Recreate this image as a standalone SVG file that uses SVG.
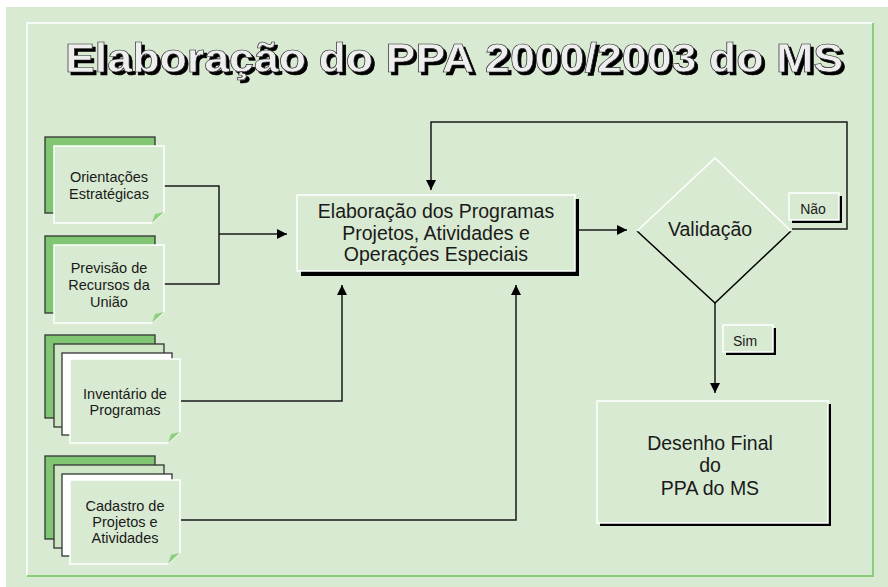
<svg xmlns="http://www.w3.org/2000/svg" width="888" height="587" viewBox="0 0 888 587">
<style>
  .t { font-family: "Liberation Sans", Arial, sans-serif; fill: #1a1a1a; text-anchor: middle; }
  .doc { font-size: 14.5px; }
  .big { font-size: 19.5px; }
  .lbl { font-size: 14px; }
  .back1 { fill: #80c673; stroke: #333; stroke-width: 1.3; }
  .back2 { fill: #cfe7c4; stroke: #333; stroke-width: 1.3; }
  .back3 { fill: #ffffff; stroke: #333; stroke-width: 1.3; }
  .front { fill: #d9ead2; stroke: #ffffff; stroke-width: 1.5; }
  .fold { fill: #8fcf80; }
  .box { fill: #d9ead2; stroke: #ffffff; stroke-width: 1.5; }
  .shadow { fill: #000; }
  .conn { fill: none; stroke: #1a1a1a; stroke-width: 1.5; }
</style>
<defs>
  <marker id="arr" viewBox="0 0 10 10" refX="10" refY="5" markerWidth="10" markerHeight="10" markerUnits="userSpaceOnUse" orient="auto">
    <path d="M0,0 L10,5 L0,10 Z" fill="#000"/>
  </marker>
  <filter id="tshadow" x="-5%" y="-20%" width="110%" height="150%">
    <feFlood flood-color="#000" result="f"/>
    <feComposite in="f" in2="SourceAlpha" operator="in" result="s"/>
    <feOffset in="s" dx="3" dy="3" result="o"/>
    <feMerge>
      <feMergeNode in="o"/>
      <feMergeNode in="SourceGraphic"/>
    </feMerge>
  </filter>
</defs>
<rect x="0" y="0" width="888" height="587" fill="#ffffff"/>
<rect x="6" y="7" width="882" height="580" fill="#d9ead2"/>
<path d="M27,576 V23 H873" fill="none" stroke="#ffffff" stroke-width="1.5"/>
<path d="M873,23 V576 H27" fill="none" stroke="#8ccc7c" stroke-width="2"/>

<g id="title">
  <text x="65" y="72" font-family="Liberation Sans, Arial, sans-serif" font-weight="bold" font-size="40" textLength="778" lengthAdjust="spacingAndGlyphs" fill="#eeeeee" stroke="#222" stroke-width="0.6" filter="url(#tshadow)">Elaboração do PPA 2000/2003 do MS</text>
</g>

<g id="connectors">
  <path class="conn" d="M164,186 H219 V284 H164"/>
  <path class="conn" d="M219,234 H287" marker-end="url(#arr)"/>
  <path class="conn" d="M181,401 H342 V285" marker-end="url(#arr)"/>
  <path class="conn" d="M181,520 H516 V285" marker-end="url(#arr)"/>
  <path class="conn" d="M579,230 H627" marker-end="url(#arr)"/>
  <path class="conn" d="M792,229 H847 V122 H431 V190" marker-end="url(#arr)"/>
  <path class="conn" d="M715,303 V393" marker-end="url(#arr)"/>
</g>

<g id="doc-orientacoes">
  <rect class="back1" x="45" y="137" width="110" height="76"/>
  <path class="front" d="M54,146 H164 V212 L152,223 H54 Z"/>
  <path class="fold" d="M164,212 L152,223 L155,214 Z"/>
  <text class="t doc" x="109" y="182">Orientações</text>
  <text class="t doc" x="109" y="199">Estratégicas</text>
</g>

<g id="doc-previsao">
  <rect class="back1" x="45" y="236" width="110" height="77"/>
  <path class="front" d="M54,245 H164 V312 L152,323 H54 Z"/>
  <path class="fold" d="M164,312 L152,323 L155,314 Z"/>
  <text class="t doc" x="109" y="273">Previsão de</text>
  <text class="t doc" x="109" y="290">Recursos da</text>
  <text class="t doc" x="109" y="307">União</text>
</g>

<g id="doc-inventario">
  <rect class="back1" x="45" y="335" width="110" height="83"/>
  <rect class="back2" x="54" y="344" width="110" height="83"/>
  <rect class="back3" x="62" y="353" width="110" height="82"/>
  <path class="front" d="M70,359 H180 V432 L168,443 H70 Z"/>
  <path class="fold" d="M180,432 L168,443 L171,434 Z"/>
  <text class="t doc" x="125" y="399">Inventário de</text>
  <text class="t doc" x="125" y="415">Programas</text>
</g>

<g id="doc-cadastro">
  <rect class="back1" x="45" y="456" width="110" height="83"/>
  <rect class="back2" x="54" y="465" width="110" height="83"/>
  <rect class="back3" x="62" y="474" width="110" height="82"/>
  <path class="front" d="M70,480 H180 V553 L168,564 H70 Z"/>
  <path class="fold" d="M180,553 L168,564 L171,555 Z"/>
  <text class="t doc" x="125" y="511">Cadastro de</text>
  <text class="t doc" x="125" y="527">Projetos e</text>
  <text class="t doc" x="125" y="543">Atividades</text>
</g>

<g id="main-process">
  <rect class="shadow" x="301" y="199" width="278" height="77"/>
  <rect class="box" x="297" y="195" width="278" height="76"/>
  <text class="t big" x="436" y="218">Elaboração dos Programas</text>
  <text class="t big" x="436" y="240">Projetos, Atividades e</text>
  <text class="t big" x="436" y="261">Operações Especiais</text>
</g>

<g id="validacao">
  <path d="M637,231 L715,158 L791,231 Z" fill="#d9ead2"/>
  <path d="M637,231 L715,303 L791,231" fill="#d9ead2" stroke="#000" stroke-width="1.5"/>
  <path d="M637,231 L715,158 L791,231" fill="none" stroke="#ffffff" stroke-width="1.5"/>
  <text class="t big" x="710" y="236">Validação</text>
</g>

<g id="label-nao">
  <rect class="shadow" x="792" y="196" width="50" height="27"/>
  <rect class="box" x="789" y="193" width="50" height="27"/>
  <text class="t lbl" x="813" y="214">Não</text>
</g>

<g id="label-sim">
  <rect class="shadow" x="726" y="328" width="50" height="27"/>
  <rect class="box" x="723" y="325" width="50" height="27"/>
  <text class="t lbl" x="745" y="346">Sim</text>
</g>

<g id="desenho-final">
  <rect class="shadow" x="600" y="404" width="231" height="122"/>
  <rect class="box" x="597" y="401" width="231" height="122"/>
  <text class="t big" x="710" y="450">Desenho Final</text>
  <text class="t big" x="710" y="472">do</text>
  <text class="t big" x="710" y="495">PPA do MS</text>
</g>
</svg>
